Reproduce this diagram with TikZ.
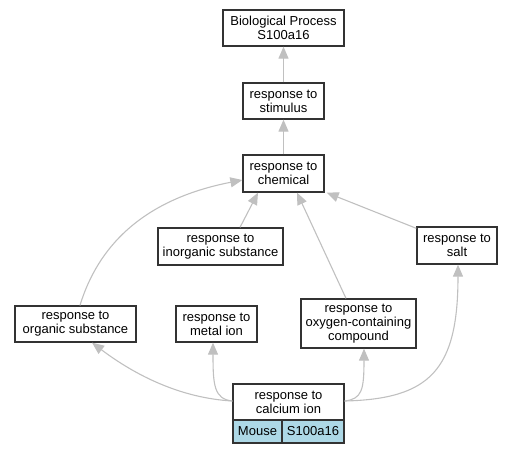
\documentclass[tikz,border=0pt]{standalone}
\usepackage{fontspec}
\setmainfont{Liberation Sans}
\usetikzlibrary{arrows.meta,calc}
\definecolor{edgegray}{HTML}{C0C0C0}
\definecolor{boxline}{HTML}{333333}
\definecolor{cellblue}{HTML}{ADD8E6}
\tikzset{
  term/.style={draw=boxline, line width=1.3pt, fill=white, inner sep=0pt, align=center,
    font=\fontsize{13}{13.8}\selectfont},
  cell/.style={draw=boxline, line width=1.3pt, inner sep=0pt, align=center,
    font=\fontsize{13}{13.8}\selectfont},
  edge/.style={draw=edgegray, line width=1.1pt, -{Triangle[length=12pt,width=10pt]}, color=edgegray}
}
\begin{document}
\begin{tikzpicture}[x=1pt,y=-1pt]
\useasboundingbox (0,0) rectangle (511,453);
\node[term, minimum width=121pt, minimum height=36pt] (bp) at (283.5,28) {Biological Process\\S100a16};
\node[term, minimum width=81pt, minimum height=36pt] (stim) at (283.5,101) {response to\\stimulus};
\node[term, minimum width=81pt, minimum height=37pt] (chem) at (283.5,173.5) {response to\\chemical};
\node[term, minimum width=125pt, minimum height=37pt] (inorg) at (220.5,246.5) {response to\\inorganic substance};
\node[term, minimum width=80pt, minimum height=37pt] (salt) at (457,245.5) {response to\\salt};
\node[term, minimum width=121pt, minimum height=36pt] (org) at (75.5,324) {response to\\organic substance};
\node[term, minimum width=81pt, minimum height=36pt] (metal) at (216.5,324) {response to\\metal ion};
\node[term, minimum width=115pt, minimum height=49pt] (oxy) at (358.5,323.5) {response to\\oxygen-containing\\compound};
\node[term, minimum width=111pt, minimum height=36pt] (calc) at (288.5,402) {response to\\calcium ion};
\node[cell, fill=cellblue, minimum width=49pt, minimum height=23pt] (mouse) at (257.5,431.5) {Mouse};
\node[cell, fill=cellblue, minimum width=62pt, minimum height=23pt] (gene) at (313,431.5) {S100a16};

\draw[edge] (stim.north) -- (bp.south);
\draw[edge] (chem.north) -- (stim.south);
\draw[edge] ($(inorg.north)+(19.5,0)$) -- ($(chem.south)+(-25.5,0)$);
\draw[edge] (org.north) ++(4.5,0) .. controls (100,240) and (150,198) .. ($(chem.west)+(0,6.5)$);
\draw[edge] ($(oxy.north)+(-12.5,0)$) -- ($(chem.south)+(13.5,0)$);
\draw[edge] (salt.north west) ++(0,2) -- ($(chem.south east)+(2,0)$);
\draw[edge] ($(calc.west)+(0,-1)$) .. controls (180,398) and (135,375) .. ($(org.south)+(16.5,0)$);
\draw[edge] ($(calc.west)+(0,-1)$) .. controls (214,399) and (213,385) .. ($(metal.south)+(-3.5,0)$);
\draw[edge] ($(calc.east)+(0,-1)$) .. controls (362,399) and (364,390) .. ($(oxy.south)+(5.5,0)$);
\draw[edge] ($(calc.east)+(0,-1)$) .. controls (430,399) and (458,370) .. ($(salt.south)+(1,0)$);
\end{tikzpicture}
\end{document}
